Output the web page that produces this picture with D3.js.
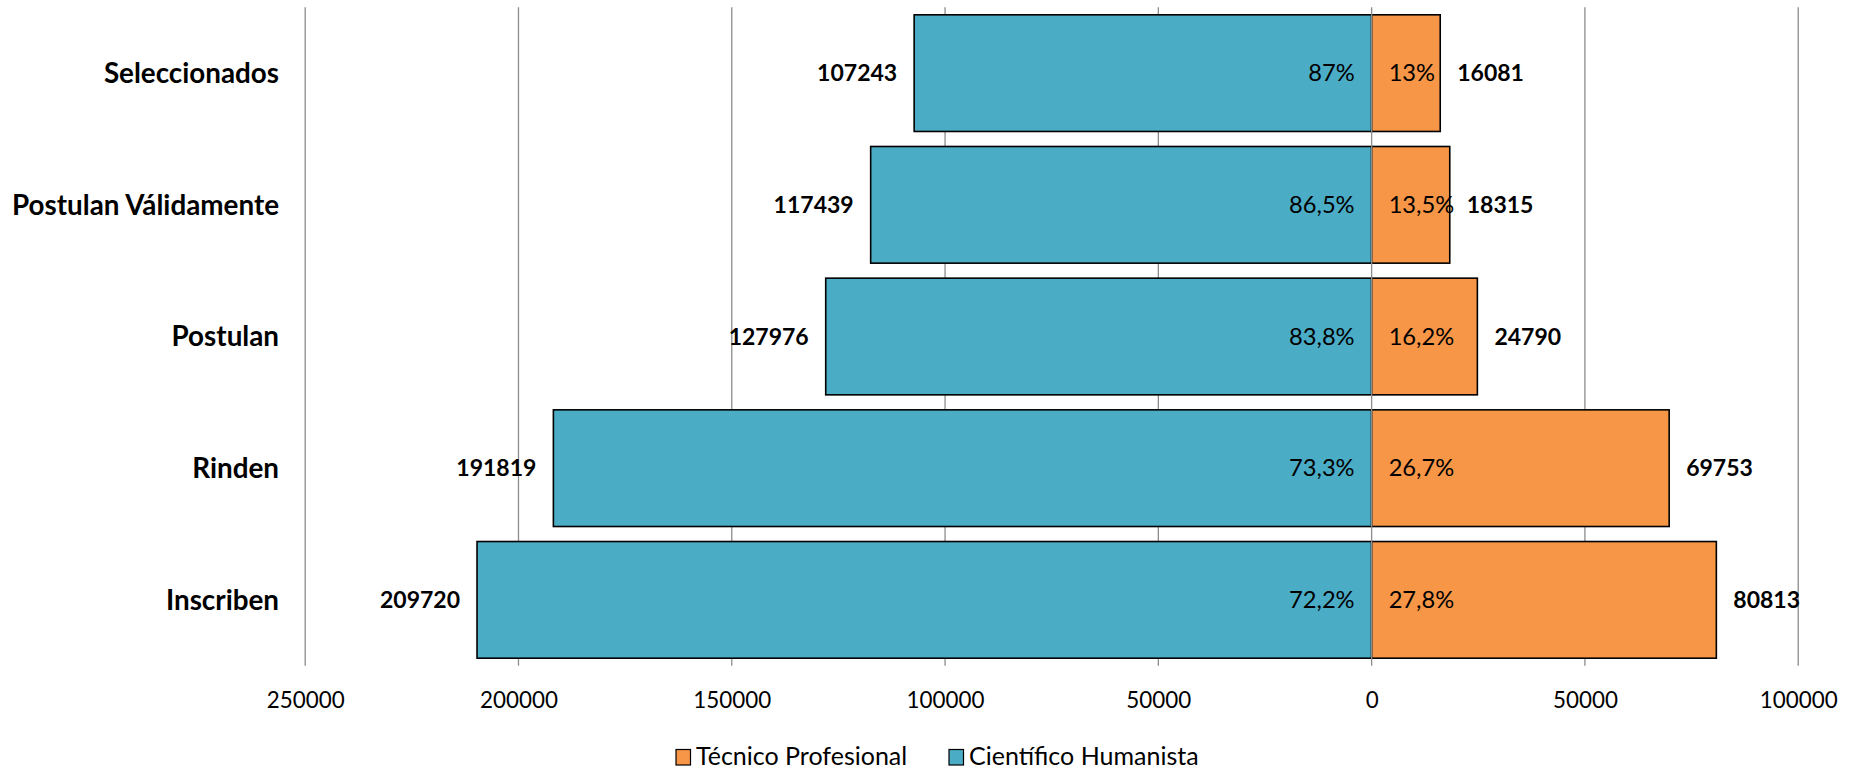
<!DOCTYPE html>
<html>
<head>
<meta charset="utf-8">
<script src="https://cdn.jsdelivr.net/npm/d3@7"></script>
<style>
  html, body { margin: 0; padding: 0; background: #fff; }
  svg { display: block; font-family: Lato, "Open Sans", sans-serif; }
</style>
</head>
<body>
<svg id="chart" width="1858" height="769"></svg>
<script>
const categories = ["Seleccionados", "Postulan Válidamente", "Postulan", "Rinden", "Inscriben"];
const cientifico = [107243, 117439, 127976, 191819, 209720];
const tecnico = [16081, 18315, 24790, 69753, 80813];
const cientificoPct = ["87%", "86,5%", "83,8%", "73,3%", "72,2%"];
const tecnicoPct = ["13%", "13,5%", "16,2%", "26,7%", "27,8%"];
const tickValues = [-250000, -200000, -150000, -100000, -50000, 0, 50000, 100000];
const seriesNames = ["Técnico Profesional", "Científico Humanista"];

const colBlue = "#4BACC6", colOrange = "#F79646", gridCol = "#8c8c8c";

const svg = d3.select("#chart");
const x = d3.scaleLinear().domain([-250000, 100000]).range([305.2, 1798.2]);
const y = d3.scaleBand().domain(categories).range([7.3, 665.7]).paddingInner(0.114).paddingOuter(0.057);

// grid
const gGrid = svg.append("g");
gGrid.selectAll("line").data(tickValues.filter(v => v !== 0)).enter().append("line")
  .attr("x1", d => x(d)).attr("x2", d => x(d))
  .attr("y1", 7.3).attr("y2", 665.7)
  .attr("stroke", gridCol).attr("stroke-width", 1.3);

// bars
const rows = categories.map((c, i) => ({c, ch: cientifico[i], tp: tecnico[i], chp: cientificoPct[i], tpp: tecnicoPct[i]}));
const gBars = svg.append("g");
gBars.selectAll("rect.ch").data(rows).enter().append("rect").attr("class", "ch")
  .attr("x", d => x(-d.ch)).attr("width", d => x(0) - x(-d.ch))
  .attr("y", d => y(d.c)).attr("height", y.bandwidth())
  .attr("fill", colBlue).attr("stroke", "#000").attr("stroke-width", 1.6);
gBars.selectAll("rect.tp").data(rows).enter().append("rect").attr("class", "tp")
  .attr("x", x(0)).attr("width", d => x(d.tp) - x(0))
  .attr("y", d => y(d.c)).attr("height", y.bandwidth())
  .attr("fill", colOrange).attr("stroke", "#000").attr("stroke-width", 1.6);

// zero line
svg.append("line").attr("x1", x(0)).attr("x2", x(0)).attr("y1", 7.3).attr("y2", 665.7)
  .attr("stroke", gridCol).attr("stroke-width", 1.3);

// axis tick labels
const xAxis = d3.axisBottom(x).tickValues(tickValues).tickSize(0).tickPadding(0)
  .tickFormat(d => String(Math.abs(d)));
const gAx = svg.append("g").attr("transform", "translate(0,708)").call(xAxis);
gAx.select(".domain").remove();
gAx.selectAll("text").attr("dy", 0).attr("y", 0).attr("font-size", 22.4).attr("font-family", "Lato").attr("fill", "#000");

// category labels
svg.append("g").selectAll("text").data(categories).enter().append("text")
  .attr("x", 279).attr("y", d => y(d) + y.bandwidth() / 2).attr("dy", "0.35em")
  .attr("text-anchor", "end").attr("font-weight", "bold").attr("font-size", 27.8).text(d => d);

// value labels
const cy = d => y(d.c) + y.bandwidth() / 2;
const gLab = svg.append("g");
gLab.selectAll("text.chv").data(rows).enter().append("text")
  .attr("x", d => x(-d.ch) - 17).attr("y", cy).attr("dy", "0.35em").attr("font-size", 23)
  .attr("text-anchor", "end").attr("font-weight", "bold").text(d => d.ch);
gLab.selectAll("text.tpv").data(rows).enter().append("text")
  .attr("x", d => x(d.tp) + 17).attr("y", cy).attr("dy", "0.35em").attr("font-size", 23)
  .attr("text-anchor", "start").attr("font-weight", "bold").text(d => d.tp);
gLab.selectAll("text.chp").data(rows).enter().append("text")
  .attr("x", x(0) - 17).attr("y", cy).attr("dy", "0.35em").attr("font-size", 23.7)
  .attr("text-anchor", "end").text(d => d.chp);
gLab.selectAll("text.tpp").data(rows).enter().append("text")
  .attr("x", x(0) + 17).attr("y", cy).attr("dy", "0.35em").attr("font-size", 23.7)
  .attr("text-anchor", "start").text(d => d.tpp);

// legend
const legend = [{name: seriesNames[0], col: colOrange, x: 676}, {name: seriesNames[1], col: colBlue, x: 949}];
const gLeg = svg.append("g");
legend.forEach(l => {
  gLeg.append("rect").attr("x", l.x).attr("y", 749.5).attr("width", 14.5).attr("height", 15.5)
    .attr("fill", l.col).attr("stroke", "#000").attr("stroke-width", 1.2);
  gLeg.append("text").attr("x", l.x + 20).attr("y", 765).attr("font-size", 25).text(l.name);
});
</script>
</body>
</html>
